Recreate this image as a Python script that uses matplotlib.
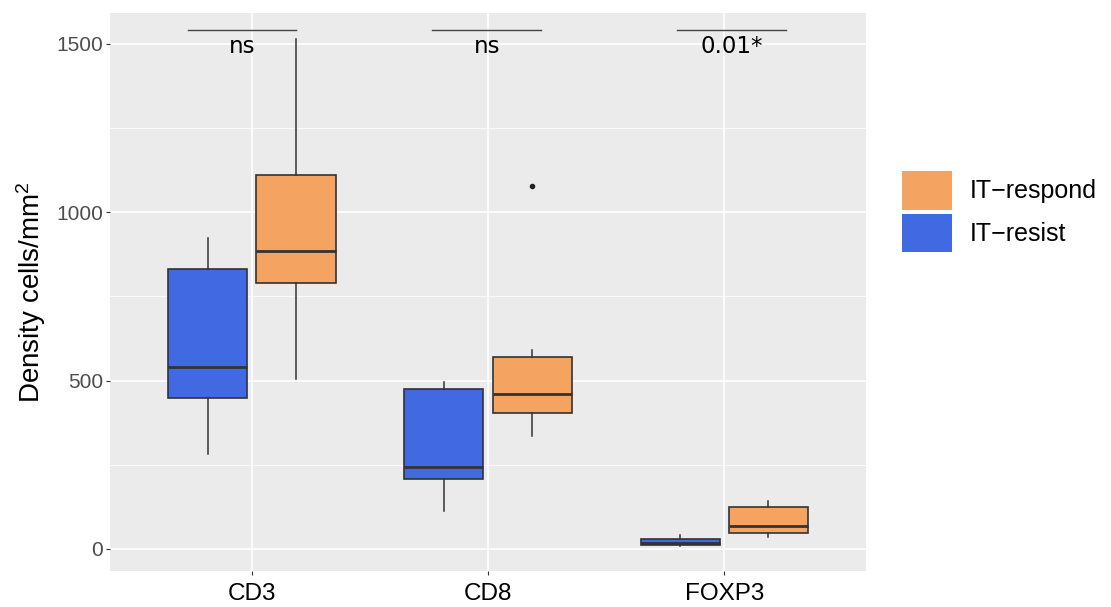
import matplotlib.pyplot as plt
from matplotlib.patches import Patch
from matplotlib.ticker import MultipleLocator

plt.rcParams['font.family'] = ['Liberation Sans', 'DejaVu Sans']
plt.rcParams['mathtext.default'] = 'regular'

# values
markers = ['CD3', 'CD8', 'FOXP3']
groups = ['IT-resist', 'IT-respond']
group_colors = ['#4169E1', '#F4A460']

# per marker: (whisker low, q1, median, q3, whisker high)
resist_stats = [(282, 449, 541, 830, 924),
                (111, 208, 242, 474, 495),
                (9, 11, 16, 29, 41)]
respond_stats = [(506, 789, 885, 1112, 1514),
                 (335, 404, 459, 570, 592),
                 (34, 47, 68, 125, 142)]
respond_outliers = [[], [1078], []]
resist_outliers = [[], [], []]

p_labels = ['ns', 'ns', '0.01*']
bracket_y = 1541
# bracket start / end on the category axis (1 = CD3, 2 = CD8, 3 = FOXP3)
bracket_x0 = [0.732, 1.764, 2.800]
bracket_x1 = [1.189, 2.225, 3.261]

fig = plt.figure(figsize=(11.11, 6.07), dpi=100)
ax = fig.add_axes([0.099, 0.0598, 0.6805, 0.9188])
ax.set_facecolor('#EBEBEB')
for s in ax.spines.values():
    s.set_visible(False)

ax.set_xlim(0.4, 3.6)
ax.set_ylim(-65, 1592)
ax.yaxis.set_major_locator(MultipleLocator(500))
ax.yaxis.set_minor_locator(MultipleLocator(250))
ax.grid(True, which='major', color='white', lw=1.2)
ax.grid(True, which='minor', axis='y', color='white', lw=0.6)
ax.set_axisbelow(True)


def make_stats(rows, outs):
    res = []
    for (lo, q1, med, q3, hi), fl in zip(rows, outs):
        res.append(dict(whislo=lo, q1=q1, med=med, q3=q3, whishi=hi, fliers=fl))
    return res


offset = 0.187
width = 0.335
for gi, (rows, outs) in enumerate([(resist_stats, resist_outliers),
                                   (respond_stats, respond_outliers)]):
    pos = [i + 1 + (offset if gi == 1 else -offset) for i in range(len(markers))]
    ax.bxp(make_stats(rows, outs), positions=pos, widths=width,
           patch_artist=True, showcaps=False, manage_ticks=False,
           boxprops=dict(facecolor=group_colors[gi], edgecolor='#333333', lw=1.2),
           whiskerprops=dict(color='#333333', lw=1.1),
           medianprops=dict(color='#333333', lw=2.0),
           flierprops=dict(marker='o', markersize=3, markerfacecolor='#222222',
                           markeredgecolor='#222222'))

# significance brackets
for x0, x1, lab in zip(bracket_x0, bracket_x1, p_labels):
    ax.plot([x0, x1], [bracket_y, bracket_y], color='#444444', lw=1.0)
    ax.text((x0 + x1) / 2, bracket_y - 14, lab, ha='center', va='top',
            fontsize=16.5, family='DejaVu Sans', color='black')

ax.set_xticks(range(1, len(markers) + 1))
ax.set_xticklabels(markers)
ax.tick_params(axis='x', labelsize=17.5, labelcolor='black', color='#333333',
               length=3, pad=6)
ax.tick_params(axis='y', labelsize=15, labelcolor='#4D4D4D', color='#333333',
               length=3, pad=2)
ax.tick_params(axis='y', which='minor', length=0)
ax.set_ylabel('Density cells/mm$^{2}$', fontsize=20, labelpad=6)

handles = [Patch(facecolor=group_colors[1], edgecolor='none'),
           Patch(facecolor=group_colors[0], edgecolor='none')]
fig.legend(handles, ['IT\u2212respond', 'IT\u2212resist'],
           loc='upper left', bbox_to_anchor=(0.8119, 0.7183),
           frameon=False, fontsize=18, handlelength=2.0, handleheight=2.0,
           labelspacing=0.16, handletextpad=0.72, borderpad=0, borderaxespad=0)

fig.savefig('out.png', dpi=100)
